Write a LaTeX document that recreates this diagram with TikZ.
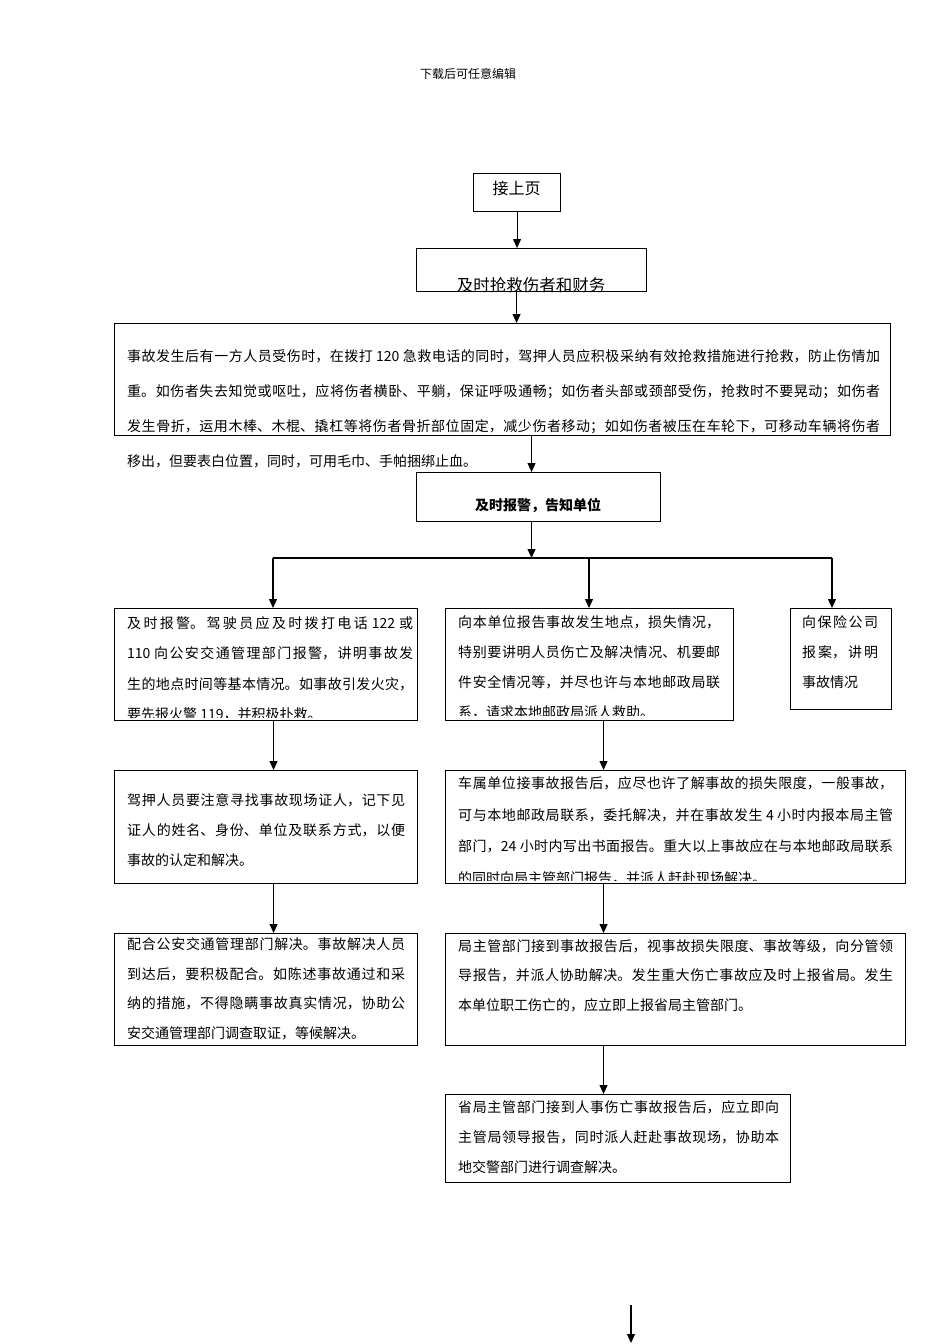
\documentclass[tikz,border=0pt]{standalone}
\usepackage{fontspec}
\setmainfont{Noto Sans CJK SC}
\usetikzlibrary{arrows.meta}
\XeTeXlinebreaklocale "zh"
\XeTeXlinebreakskip=0pt plus 4pt
\tolerance=9000
\hbadness=10000
\newcommand\zhpar[3]{\parbox[t]{#1}{\fontsize{14pt}{#2}\selectfont #3}}
\tikzset{
  box/.style={draw, line width=1.1pt, rectangle, inner sep=0pt, anchor=north west},
  txt/.style={anchor=base west, inner sep=0pt},
  ctxt/.style={anchor=base, inner sep=0pt},
  arr/.style={line width=1.1pt, -{Triangle[length=9pt,width=8pt]}},
  ln/.style={line width=1.1pt}
}
\begin{document}
\begin{tikzpicture}[x=1pt,y=-1pt]
\useasboundingbox (0,0) rectangle (950,1344);
\fill[white] (0,0) rectangle (950,1344);

\node[ctxt] (hdr) at (468,78.5) {\fontsize{12pt}{12pt}\selectfont 下载后可任意编辑};

% boxes
\node[box, minimum width=87pt, minimum height=38pt] (top) at (473,173) {};
\node[box, minimum width=230pt, minimum height=43pt] (qj) at (416,248) {};
\node[box, minimum width=776pt, minimum height=112pt] (big) at (114,323) {};
\node[box, minimum width=244pt, minimum height=49pt] (bj) at (416,472) {};
\node[box, minimum width=303pt, minimum height=112pt] (L1) at (114,608) {};
\node[box, minimum width=288pt, minimum height=112pt] (M1) at (445,608) {};
\node[box, minimum width=101pt, minimum height=101pt] (R1) at (790,608) {};
\node[box, minimum width=303pt, minimum height=113pt] (L2) at (114,770) {};
\node[box, minimum width=460pt, minimum height=113pt] (M2) at (445,770) {};
\node[box, minimum width=303pt, minimum height=112pt] (L3) at (114,933) {};
\node[box, minimum width=460pt, minimum height=112pt] (M3) at (445,933) {};
\node[box, minimum width=345pt, minimum height=88pt] (M4) at (445,1094) {};

% texts
\node[ctxt] (topt) at (516.5,194) {\fontsize{16pt}{16pt}\selectfont 接上页};
\node[ctxt] (qjt) at (531,291.5) {\fontsize{16.5pt}{16.5pt}\selectfont 及时抢救伤者和财务};
\node[ctxt] (bjt) at (538,510.3) {\fontsize{14pt}{14pt}\selectfont\bfseries 及时报警，告知单位};

\node[txt] (bigt) at (127,361.3) {\zhpar{753pt}{35pt}{事故发生后有一方人员受伤时，在拨打 120 急救电话的同时，驾押人员应积极采纳有效抢救措施进行抢救，防止伤情加\linebreak 重。如伤者失去知觉或呕吐，应将伤者横卧、平躺，保证呼吸通畅；如伤者头部或颈部受伤，抢救时不要晃动；如伤者\linebreak 发生骨折，运用木棒、木棍、撬杠等将伤者骨折部位固定，减少伤者移动；如如伤者被压在车轮下，可移动车辆将伤者\linebreak 移出，但要表白位置，同时，可用毛巾、手帕捆绑止血。}};

\begin{scope}
\clip (L1.north west) rectangle ([yshift=4pt]L1.south east);
\node[txt] (L1t) at (127,628.3) {\zhpar{286pt}{30.5pt}{及时报警。驾驶员应及时拨打电话 122 或\linebreak 110 向公安交通管理部门报警，讲明事故发\linebreak 生的地点时间等基本情况。如事故引发火灾，\linebreak 要先报火警 119，并积极扑救。}};
\end{scope}

\begin{scope}
\clip (M1.north west) rectangle ([yshift=6pt]M1.south east);
\node[txt] (M1t) at (458,627.3) {\zhpar{262pt}{30pt}{向本单位报告事故发生地点，损失情况，\linebreak 特别要讲明人员伤亡及解决情况、机要邮\linebreak 件安全情况等，并尽也许与本地邮政局联\linebreak 系，请求本地邮政局派人救助。}};
\end{scope}

\node[txt] (R1t) at (802,627.3) {\zhpar{76pt}{30pt}{向保险公司\linebreak 报案，讲明\linebreak 事故情况}};

\node[txt] (L2t) at (127,805.3) {\zhpar{278pt}{30pt}{驾押人员要注意寻找事故现场证人，记下见\linebreak 证人的姓名、身份、单位及联系方式，以便\linebreak 事故的认定和解决。}};

\begin{scope}
\clip (M2.north west) rectangle ([yshift=4pt]M2.south east);
\node[txt] (M2t) at (458,788.3) {\zhpar{435pt}{31.7pt}{车属单位接事故报告后，应尽也许了解事故的损失限度，一般事故，\linebreak 可与本地邮政局联系，委托解决，并在事故发生 4 小时内报本局主管\linebreak 部门，24 小时内写出书面报告。重大以上事故应在与本地邮政局联系\linebreak 的同时向局主管部门报告，并派人赶赴现场解决。}};
\end{scope}

\begin{scope}
\clip (L3.north west) rectangle ([yshift=7pt]L3.south east);
\node[txt] (L3t) at (127,949.3) {\zhpar{278pt}{29.7pt}{配合公安交通管理部门解决。事故解决人员\linebreak 到达后，要积极配合。如陈述事故通过和采\linebreak 纳的措施，不得隐瞒事故真实情况，协助公\linebreak 安交通管理部门调查取证，等候解决。}};
\end{scope}

\node[txt] (M3t) at (458,951.3) {\zhpar{435pt}{29.5pt}{局主管部门接到事故报告后，视事故损失限度、事故等级，向分管领\linebreak 导报告，并派人协助解决。发生重大伤亡事故应及时上报省局。发生\linebreak 本单位职工伤亡的，应立即上报省局主管部门。}};

\node[txt] (M4t) at (458,1112.3) {\zhpar{321pt}{30pt}{省局主管部门接到人事伤亡事故报告后，应立即向\linebreak 主管局领导报告，同时派人赶赴事故现场，协助本\linebreak 地交警部门进行调查解决。}};

% connectors
\coordinate (a1) at ([xshift=-15pt]qj.south);
\coordinate (a2) at ([xshift=29pt]big.south);
\coordinate (a3) at ([xshift=-7pt]bj.south);
\coordinate (bl) at (273,558);
\coordinate (bm) at (589,558);
\coordinate (br) at (832,558);
\coordinate (a4) at ([xshift=7.5pt]L1.south);
\coordinate (a5) at ([xshift=7.5pt]L2.south);
\coordinate (a6) at ([xshift=14pt]M1.south);
\coordinate (a7) at ([xshift=-72pt]M2.south);
\coordinate (a8) at ([xshift=-72pt]M3.south);
\coordinate (fa) at (631,1305);
\coordinate (fb) at (631,1343);

\draw[arr] (top.south) -- (top.south |- qj.north);
\draw[arr] (a1) -- (a1 |- big.north);
\draw[arr] (a2) -- (a2 |- bj.north);
\draw[arr] (a3) -- (a3 |- bl);
\draw[ln] (bl) -- (br);
\draw[arr] (bl) -- (bl |- L1.north);
\draw[arr] (bm) -- (bm |- M1.north);
\draw[arr] (br) -- (br |- R1.north);
\draw[arr] (a4) -- (a4 |- L2.north);
\draw[arr] (a5) -- (a5 |- L3.north);
\draw[arr] (a6) -- (a6 |- M2.north);
\draw[arr] (a7) -- (a7 |- M3.north);
\draw[arr] (a8) -- (a8 |- M4.north);
\draw[arr] (fa) -- (fb);
\end{tikzpicture}
\end{document}
